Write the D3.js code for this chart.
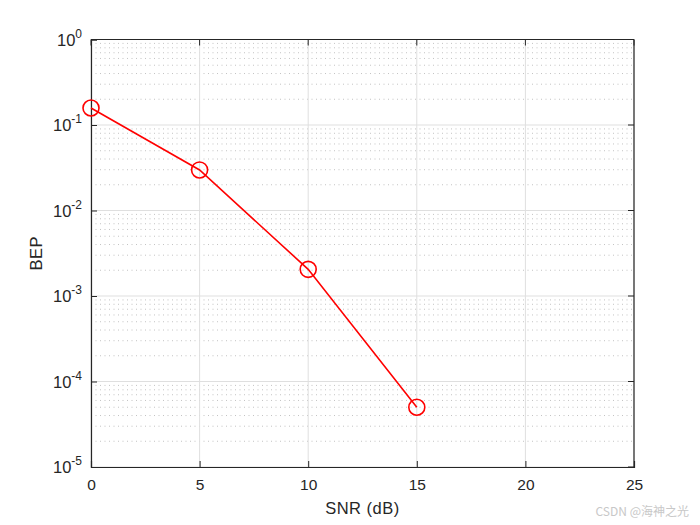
<!DOCTYPE html>
<html><head><meta charset="utf-8">
<script src="https://cdn.jsdelivr.net/npm/d3@7"></script>
<style>body{margin:0;background:#fff}svg{display:block}</style>
</head><body>
<script>
const snr = [0, 5, 10, 15];
const bep = [0.158, 0.0298, 0.00205, 5.0e-5];
const xTicks = [0, 5, 10, 15, 20, 25];
const yExps = [0, -1, -2, -3, -4, -5];

const W = 700, H = 525;
const m = {l: 91, t: 39.5, r: 634, b: 467};
const svg = d3.select("body").append("svg").attr("width", W).attr("height", H)
  .style("font-family", "Liberation Sans, Arial, sans-serif");
const x = d3.scaleLinear().domain([0, 25]).range([m.l, m.r]);
const y = d3.scaleLog().domain([1e-5, 1]).range([m.b, m.t]);

const g = svg.append("g");
// minor grid (dotted)
const minors = [];
for (let e = -5; e < 0; e++) for (let k = 2; k <= 9; k++) minors.push(k * Math.pow(10, e));
g.selectAll(".mn").data(minors).enter().append("line")
  .attr("x1", m.l).attr("x2", m.r).attr("y1", d => y(d)).attr("y2", d => y(d))
  .attr("stroke", "#b4b4b4").attr("stroke-width", 0.8).attr("stroke-dasharray", "1,3.5");
// major grid
g.selectAll(".gy").data(yExps.map(e => Math.pow(10, e))).enter().append("line")
  .attr("x1", m.l).attr("x2", m.r).attr("y1", d => y(d)).attr("y2", d => y(d))
  .attr("stroke", "#dfdfdf").attr("stroke-width", 1);
g.selectAll(".gx").data(xTicks).enter().append("line")
  .attr("y1", m.t).attr("y2", m.b).attr("x1", d => x(d)).attr("x2", d => x(d))
  .attr("stroke", "#dfdfdf").attr("stroke-width", 1);

// axes
const ax = d3.axisBottom(x).tickValues(xTicks).tickSize(-6).tickPadding(12).tickFormat(d3.format("d"));
const xa = svg.append("g").attr("transform", `translate(0,${m.b})`).call(ax);
const ay = d3.axisLeft(y).tickValues(yExps.map(e => Math.pow(10, e))).tickSize(-6).tickPadding(10).tickFormat("");
const ya = svg.append("g").attr("transform", `translate(${m.l},0)`).call(ay);
[xa, ya].forEach(a => {
  a.select(".domain").attr("stroke", "#262626").attr("stroke-width", 1.2);
  a.selectAll(".tick line").attr("stroke", "#262626");
  a.selectAll("text").attr("fill", "#262626").style("font-size", "15.5px");
});
// top & right border
svg.append("line").attr("x1", m.l).attr("x2", m.r).attr("y1", m.t).attr("y2", m.t).attr("stroke", "#262626").attr("stroke-width", 1.2);
svg.append("line").attr("x1", m.r).attr("x2", m.r).attr("y1", m.t).attr("y2", m.b).attr("stroke", "#262626").attr("stroke-width", 1.2);
// top/right ticks
svg.selectAll(".tt").data(xTicks).enter().append("line")
  .attr("x1", d => x(d)).attr("x2", d => x(d)).attr("y1", m.t).attr("y2", m.t + 6).attr("stroke", "#262626");
svg.selectAll(".rt").data(yExps).enter().append("line")
  .attr("x1", m.r).attr("x2", m.r - 6).attr("y1", d => y(Math.pow(10, d))).attr("y2", d => y(Math.pow(10, d))).attr("stroke", "#262626");

// y tick labels with superscripts
const yl = svg.selectAll(".yl").data(yExps).enter().append("text")
  .attr("x", m.l - 9).attr("y", d => y(Math.pow(10, d)) + 6)
  .attr("text-anchor", "end").attr("fill", "#262626").style("font-size", "16.5px");
yl.append("tspan").text("10");
yl.append("tspan").attr("dy", -8).style("font-size", "12px").text(d => String(d));

// labels
svg.append("text").attr("x", (m.l + m.r) / 2).attr("y", 514).attr("text-anchor", "middle")
  .attr("fill", "#262626").style("font-size", "16.5px").style("letter-spacing", "0.5px").text("SNR (dB)");
svg.append("text").attr("transform", `translate(42,${(m.t + m.b) / 2}) rotate(-90)`).attr("text-anchor", "middle")
  .attr("fill", "#262626").style("font-size", "16.5px").style("letter-spacing", "0.5px").text("BEP");

// data
const pts = snr.map((s, i) => [s, bep[i]]);
svg.append("path").datum(pts)
  .attr("d", d3.line().x(d => x(d[0])).y(d => y(d[1])))
  .attr("fill", "none").attr("stroke", "#ff0000").attr("stroke-width", 1.6);
svg.selectAll(".pt").data(pts).enter().append("circle")
  .attr("cx", d => x(d[0])).attr("cy", d => y(d[1])).attr("r", 8)
  .attr("fill", "none").attr("stroke", "#ff0000").attr("stroke-width", 1.6);

// watermark
svg.append("text").attr("x", 689).attr("y", 516).attr("text-anchor", "end")
  .attr("fill", "#c8c8c8").style("font-size", "12px").style("font-family", "Noto Sans CJK SC, sans-serif").text("CSDN @海神之光");
</script>
</body></html>
